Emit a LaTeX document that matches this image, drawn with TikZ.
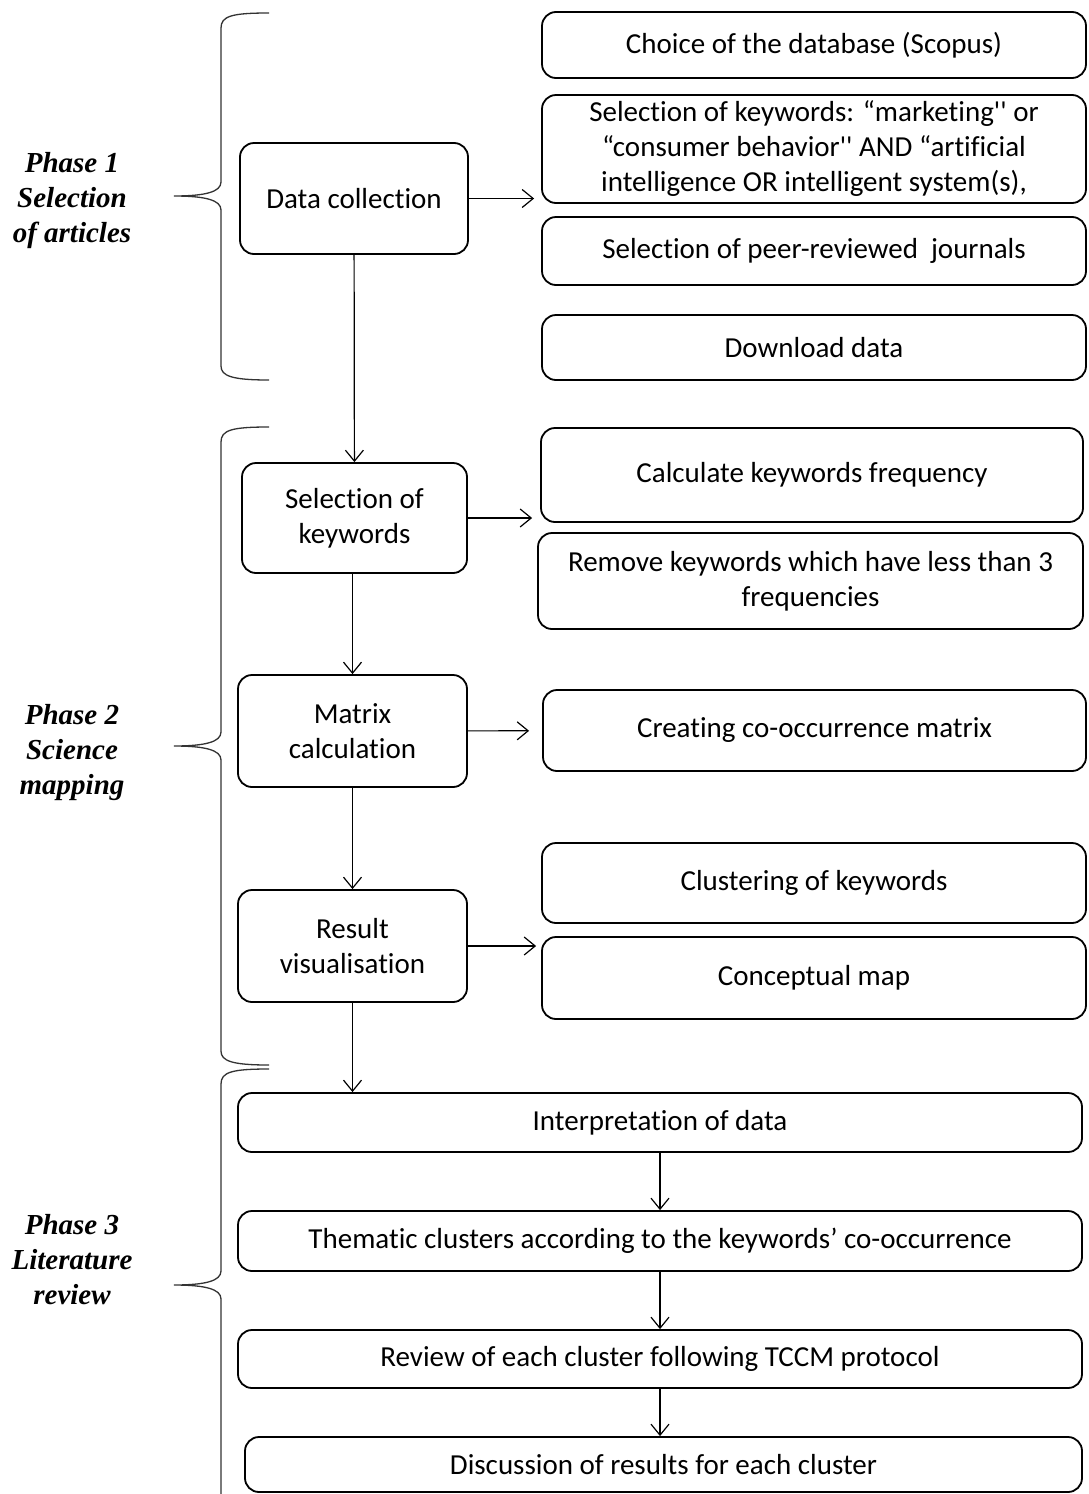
\documentclass[tikz,border=0pt]{standalone}
\usepackage{fontspec}
\setmainfont{Carlito}[Ligatures=NoCommon]
\newfontfamily\phasefont{Liberation Serif}
\usepackage{tikz}
\usetikzlibrary{arrows.meta}

\begin{document}
\begin{tikzpicture}[x=1pt, y=-1pt,
    >={Straight Barb[length=11pt, width=18pt]},
    box/.style={draw, rounded corners=14pt, line width=1.8pt, align=center, inner sep=0pt, font=\fontsize{29}{35}\selectfont},
    arrow/.style={->, line width=1.2pt},
    brace/.style={line width=1.3pt, black!80},
    phase/.style={align=center, font=\phasefont\bfseries\itshape\fontsize{29}{35}\selectfont}]
    \useasboundingbox (0,0) rectangle (1088,1494);
    % Boxes of the left column.
        \node[box, minimum width=228, minimum height=111] (datacoll) at (354,198.5) {Data collection};
        \node[box, minimum width=225, minimum height=110] (selkw) at (354.5,518) {Selection of\\keywords};
        \node[box, minimum width=229, minimum height=112] (matrix) at (352.5,731) {Matrix\\calculation};
        \node[box, minimum width=229, minimum height=112] (result) at (352.5,946) {Result\\visualisation};
    % Boxes of the right column.
        \node[box, minimum width=544, minimum height=66] (database) at (814,45) {Choice of the database (Scopus)};
        \node[box, minimum width=544, minimum height=108] (keywords) at (814,149) {Selection of keywords: “marketing\textquotesingle\textquotesingle\ or\\“consumer behavior\textquotesingle\textquotesingle\ AND “artificial\\intelligence OR intelligent system(s),};
        \node[box, minimum width=544, minimum height=68] (peer) at (814,251) {Selection of peer-reviewed\ \ journals};
        \node[box, minimum width=544, minimum height=65] (download) at (814,347.5) {Download data};
        \node[box, minimum width=542, minimum height=94] (frequency) at (812,475) {Calculate keywords frequency};
        \node[box, minimum width=545, minimum height=96] (remove) at (810.5,581) {Remove keywords which have less than 3\\frequencies};
        \node[box, minimum width=543, minimum height=81] (cooccur) at (814.5,730.5) {Creating co-occurrence matrix};
        \node[box, minimum width=544, minimum height=80] (clustering) at (814,883) {Clustering of keywords};
        \node[box, minimum width=544, minimum height=82] (concept) at (814,978) {Conceptual map};
    % Wide boxes at the bottom.
        \node[box, minimum width=844, minimum height=59] (interpret) at (660,1122.5) {Interpretation of data};
        \node[box, minimum width=844, minimum height=60] (thematic) at (660,1241) {Thematic clusters according to the keywords’ co-occurrence};
        \node[box, minimum width=844, minimum height=58] (review) at (660,1359) {Review of each cluster following TCCM protocol};
        \node[box, minimum width=837, minimum height=55] (discuss) at (663.5,1464.5) {Discussion of results for each cluster};
    % Arrows going right.
        \draw[arrow, shorten >=7pt] (datacoll) -- (keywords.west |- datacoll);
        \draw[arrow, shorten >=8pt] (selkw) -- (frequency.west |- selkw);
        \draw[arrow, shorten >=13pt] (matrix) -- (cooccur);
        \draw[arrow, shorten >=5pt] (result) -- (concept.west |- result);
    % Arrows going down.
        \draw[arrow] (datacoll) -- (selkw);
        \draw[arrow] (matrix.north |- selkw.south) -- (matrix);
        \draw[arrow] (matrix) -- (result);
        \draw[arrow] (result) -- (result.south |- interpret.north);
        \draw[arrow] (interpret) -- (thematic);
        \draw[arrow] (thematic) -- (review);
        \draw[arrow] (review) -- (review.south |- discuss.north);
    % This draws the brace of phase 1.
        \draw[brace] (269,13) .. controls (232,13) and (221,16) .. (221,28) -- (221,182) .. controls (221,192) and (205,196) .. (174,196) .. controls (205,196) and (221,200) .. (221,210) -- (221,366) .. controls (221,376) and (232,380) .. (269,380);
    % The brace of phase 2.
        \draw[brace] (269,427) .. controls (232,427) and (221,430) .. (221,442) -- (221,732) .. controls (221,742) and (205,746) .. (174,746) .. controls (205,746) and (221,750) .. (221,760) -- (221,1051) .. controls (221,1061) and (232,1065) .. (269,1065);
    % The brace of phase 3 runs down to the bottom.
        \draw[brace] (269,1069) .. controls (232,1069) and (221,1072) .. (221,1084) -- (221,1271) .. controls (221,1281) and (205,1285) .. (174,1285) .. controls (205,1285) and (221,1289) .. (221,1299) -- (221,1494);
    % Below nodes are the phase labels.
        \node[phase] (phase1) at (72,201) {Phase 1\\Selection\\of articles};
        \node[phase] (phase2) at (72,753) {Phase 2\\Science\\mapping};
        \node[phase] (phase3) at (72,1260) {Phase 3\\Literature\\review};
\end{tikzpicture}
\end{document}
